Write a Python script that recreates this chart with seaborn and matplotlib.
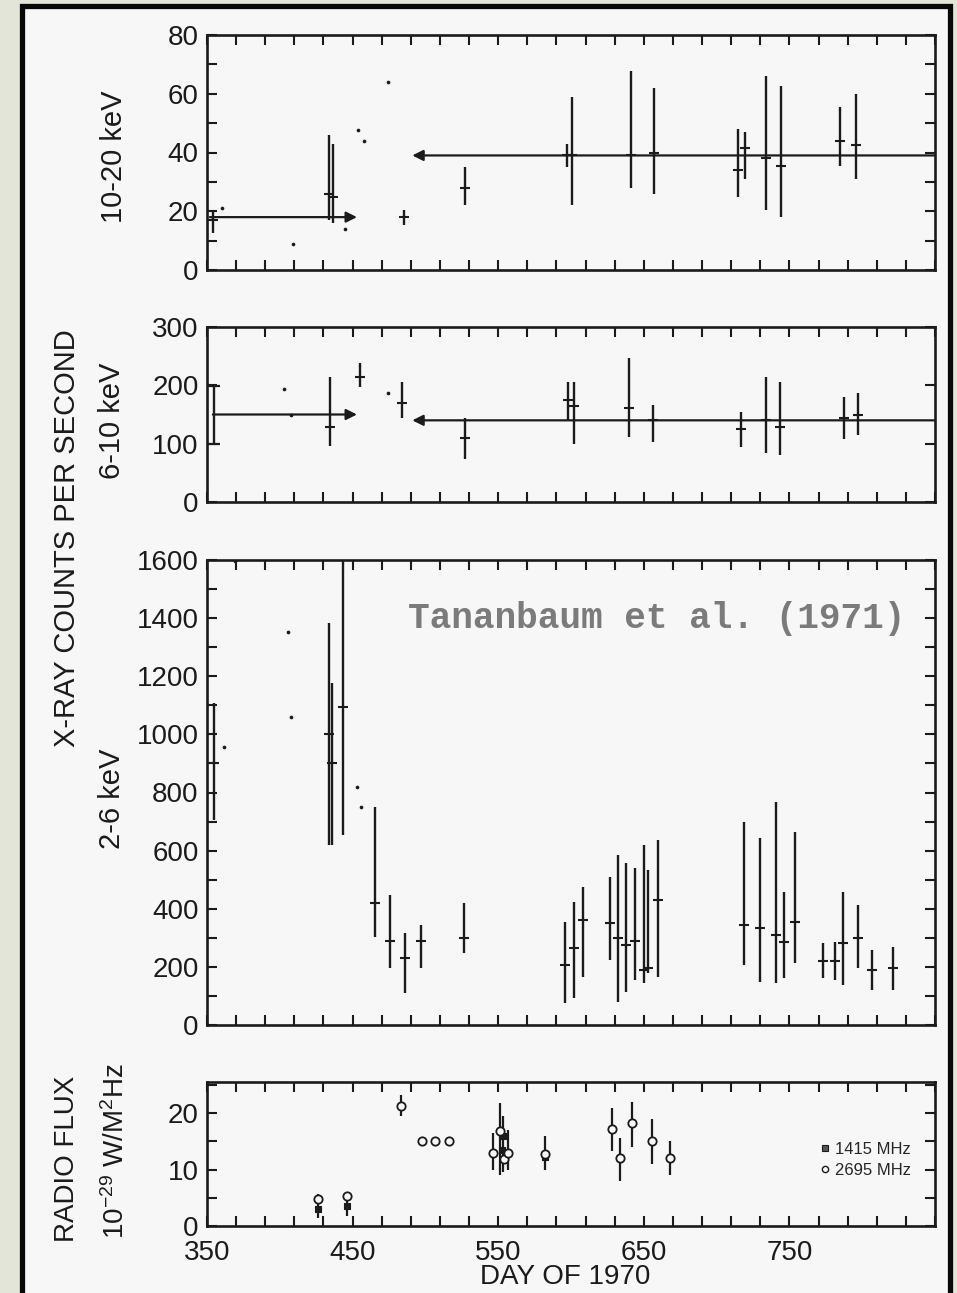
import numpy as np
import matplotlib
matplotlib.use("Agg")
import matplotlib.pyplot as plt
import seaborn as sns
from matplotlib.patches import Rectangle
from matplotlib.lines import Line2D
from matplotlib.ticker import FixedLocator, MultipleLocator, FuncFormatter

# ---------------- data ----------------
# 10-20 keV panel : error bars
hx_day = [354, 434, 436.5, 485, 527, 597, 601, 641, 657, 714.6, 719.6, 734, 744, 784.6, 796]
hx_val = [17, 26, 25, 18, 28, 39, 39, 39, 40, 34, 41.5, 38, 35.4, 44, 42.5]
hx_lo = [12.6, 17, 16, 15.3, 22, 35, 22, 28, 26, 25, 31, 20.4, 18, 35.4, 31]
hx_hi = [20.4, 46, 43, 20.4, 35, 43, 59, 67.7, 62, 48, 47, 66, 62.6, 55.4, 60]
hx_dot_day = [360, 409, 445, 454, 458, 474]
hx_dot_val = [21, 8.8, 14, 47.6, 44, 64]
hx_avg_day = [[352, 453], [850, 491]]   # (start, arrow tip)
hx_avg_val = [18, 39]

# 6-10 keV panel
mx_day = [434.5, 455, 484, 527, 598, 602, 640, 656.6, 716.5, 734, 743.7, 787.5, 797]
mx_val = [129, 215, 170, 110, 175, 165, 161, 140, 125, 140, 128, 144, 150]
mx_lo = [96, 197, 144, 74, 140, 99, 112, 103, 94, 84, 80, 108, 115]
mx_hi = [214, 238, 206, 144, 206, 206, 247, 166, 154, 214, 206, 180, 187]
mx_cap_day = [354.6]
mx_cap_val = [150]
mx_cap_lo = [99]
mx_cap_hi = [199]
mx_dot_day = [403, 408, 474]
mx_dot_val = [193, 150, 187]
mx_avg_day = [[354, 453], [850, 491]]
mx_avg_val = [150, 140]

# 2-6 keV panel
sx_day = [354.6, 434, 436, 443.5, 465.7, 476, 486, 497, 526.5, 595.7, 602, 608, 627, 632, 638,
          644, 650, 653, 660, 718.5, 730, 741, 746.6, 754, 773, 781, 787, 797, 806.6, 821]
sx_val = [900, 1000, 900, 1095, 420, 290, 230, 290, 300, 207, 264, 362, 350, 300, 275,
          290, 190, 195, 430, 344, 335, 310, 285, 355, 220, 220, 282, 300, 190, 195]
sx_lo = [705, 619, 619, 654, 303, 196, 110, 196, 248, 74, 93, 165, 224, 80, 114,
         155, 145, 178, 165, 207, 148, 144, 162, 213, 162, 155, 138, 196, 120, 120]
sx_hi = [1108, 1383, 1177, 1600, 750, 447, 316, 344, 420, 354, 424, 475, 510, 585, 557,
         540, 620, 533, 637, 700, 643, 767, 458, 664, 282, 285, 458, 413, 258, 268]
sx_dot_day = [362, 369, 405.6, 408, 453, 456]
sx_dot_val = [957, 1595, 1352, 1060, 819, 750]

# radio panel
r1415_day = [425.9, 446, 552.5, 553.5, 582]
r1415_val = [3.0, 3.5, 13.5, 16.0, 12.2]
r2695_day = [425.9, 446, 483.5, 498, 506.4, 516, 546.6, 551.5, 554, 556.4, 582, 628, 633.5, 641.8, 655.6, 668]
r2695_val = [4.7, 5.3, 21.2, 15, 15, 15, 12.9, 16.8, 11.8, 12.9, 12.8, 17.1, 12, 18.2, 15, 12]
rbar_day = [425.9, 446, 483.5, 546.6, 551.5, 553.5, 556.4, 582, 628, 633.5, 641.8, 655.6, 668]
rbar_lo = [1.5, 1.8, 19.4, 10, 9.1, 9.5, 10, 10, 13.2, 7.9, 14, 10.9, 9.1]
rbar_hi = [5.6, 5.9, 23.2, 16.5, 21.8, 19.5, 17, 15.9, 20.9, 15.6, 22, 19, 15]

day_ticks = list(range(350, 851, 20))
day_labels = [350, 450, 550, 650, 750]
legend_labels = ["1415 MHz", "2695 MHz"]

# ---------------- style ----------------
sns.set_theme(style="ticks")
plt.rcParams['font.family'] = ['Liberation Sans', 'DejaVu Sans']
plt.rcParams['mathtext.default'] = 'regular'
INK = '#1b1b1b'
PAPER = '#f7f7f7'

W, H = 957, 1293
fig = plt.figure(figsize=(W / 100, H / 100), dpi=100, facecolor='#e3e5d9')


def fx(px):
    return px / W


def fy(py):
    return 1 - py / H


frame = Rectangle((fx(22), fy(1320)), fx(949.5) - fx(22), fy(6.5) - fy(1320),
                  transform=fig.transFigure, facecolor=PAPER, edgecolor='#080808',
                  lw=3.8, zorder=-5)
fig.add_artist(frame)


def make_ax(top, bottom, ylim, major, minor, show_x=False):
    ax = fig.add_axes([fx(207), fy(bottom), fx(935) - fx(207), fy(top) - fy(bottom)])
    ax.set_facecolor('none')
    ax.set_xlim(350, 850)
    ax.set_ylim(*ylim)
    ax.xaxis.set_major_locator(FixedLocator(day_ticks))
    ax.xaxis.set_major_formatter(FuncFormatter(
        lambda v, p: f"{int(round(v))}" if int(round(v)) in day_labels else ""))
    ax.yaxis.set_major_locator(MultipleLocator(major))
    if minor:
        ax.yaxis.set_minor_locator(MultipleLocator(minor))
    ax.tick_params(which='both', direction='in', length=7, width=1.5, colors=INK,
                   top=True, right=True, labelsize=20, pad=6)
    ax.tick_params(axis='x', labelbottom=show_x, pad=10)
    for s in ax.spines.values():
        s.set_linewidth(1.9)
        s.set_color(INK)
    return ax


def err(ax, day, val, lo, hi, cap=0, mark=True):
    ax.errorbar(day, val, yerr=[np.subtract(val, lo), np.subtract(hi, val)], fmt='none',
                ecolor=INK, elinewidth=1.7, capsize=cap, capthick=1.6)
    if mark:
        sns.scatterplot(x=day, y=val, marker='_', s=45, color=INK, linewidth=1.5,
                        ax=ax, legend=False)


def dots(ax, day, val):
    sns.scatterplot(x=day, y=val, marker='o', s=7, color=INK, linewidth=0, ax=ax, legend=False)


def avg(ax, days, vals):
    for (d0, d1), v in zip(days, vals):
        ax.annotate('', xy=(d1, v), xytext=(d0, v),
                    arrowprops=dict(arrowstyle='-|>', lw=1.6, color=INK,
                                    mutation_scale=16, shrinkA=0, shrinkB=0))


# panel 1: 10-20 keV
ax1 = make_ax(35, 270, (0, 80), 20, 10)
err(ax1, hx_day, hx_val, hx_lo, hx_hi)
dots(ax1, hx_dot_day, hx_dot_val)
avg(ax1, hx_avg_day, hx_avg_val)

# panel 2: 6-10 keV
ax2 = make_ax(327, 502, (0, 300), 100, None)
err(ax2, mx_day, mx_val, mx_lo, mx_hi)
err(ax2, mx_cap_day, mx_cap_val, mx_cap_lo, mx_cap_hi, cap=4, mark=False)
dots(ax2, mx_dot_day, mx_dot_val)
avg(ax2, mx_avg_day, mx_avg_val)

# panel 3: 2-6 keV
ax3 = make_ax(560, 1025, (0, 1600), 200, 100)
err(ax3, sx_day, sx_val, sx_lo, sx_hi)
dots(ax3, sx_dot_day, sx_dot_val)

# panel 4: radio flux
ax4 = make_ax(1082, 1226, (0, 25.5), 10, 5, show_x=True)
ax4.vlines(rbar_day, rbar_lo, rbar_hi, color=INK, lw=1.6)
sns.scatterplot(x=r1415_day, y=r1415_val, marker='s', s=22, color=INK, linewidth=0.8,
                edgecolor=INK, ax=ax4, legend=False, zorder=4)
sns.scatterplot(x=r2695_day, y=r2695_val, marker='o', s=36, color=PAPER, linewidth=1.3,
                edgecolor=INK, ax=ax4, legend=False, zorder=5)
handles = [Line2D([], [], ls='none', marker='s', ms=4.5, mfc='#555555', mec=INK, mew=0.8),
           Line2D([], [], ls='none', marker='o', ms=4.5, mfc=PAPER, mec=INK, mew=1.0)]
ax4.legend(handles, legend_labels, loc='center left', bbox_to_anchor=(fx(812), fy(1160)),
           bbox_transform=fig.transFigure, frameon=False, fontsize=12, handlelength=0.6,
           handletextpad=0.3, labelspacing=0.35, borderpad=0)

# ---------------- texts ----------------
lab = dict(rotation=90, ha='center', va='center', color=INK)
fig.text(fx(114), fy(157), '10-20 keV', size=21, **lab)
fig.text(fx(112), fy(421), '6-10 keV', size=21, **lab)
fig.text(fx(112), fy(799), '2-6 keV', size=21, **lab)
fig.text(fx(67), fy(538), 'X-RAY COUNTS PER SECOND', size=21, **lab)
fig.text(fx(67), fy(1159), 'RADIO FLUX', size=20, **lab)
fig.text(fx(116), fy(1151), '$10^{-29}$ W/M$^{2}$Hz', size=20, **lab)
fig.text(fx(565), fy(1284), 'DAY OF 1970', size=20, ha='center', va='baseline', color=INK)
fig.text(fx(408), fy(628), 'Tananbaum et al. (1971)', size=26, weight='bold',
         family=['Liberation Mono', 'DejaVu Sans Mono'], color='#7b7b7b',
         ha='left', va='baseline')

fig.savefig('out.png', dpi=100, facecolor=fig.get_facecolor())
